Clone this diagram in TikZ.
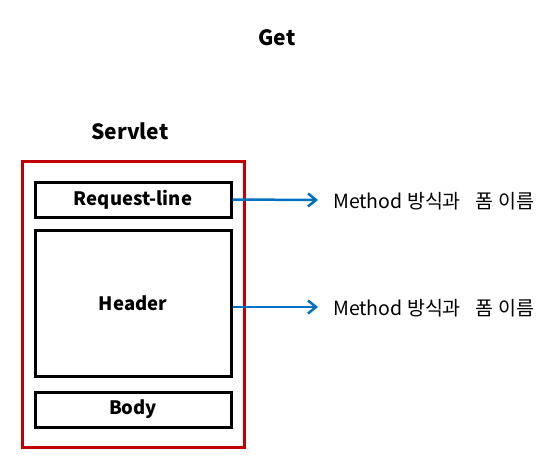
\documentclass[tikz,border=0pt]{standalone}
\usepackage{fontspec}
\setmainfont{Noto Sans CJK KR}
\usetikzlibrary{arrows.meta}
\definecolor{boxred}{HTML}{C00000}
\definecolor{arrblue}{HTML}{0070C0}
\begin{document}
\begin{tikzpicture}[x=1pt,y=-1pt,
  part/.style={draw=black,line width=3pt,minimum width=196pt,inner sep=0pt,font=\fontsize{18.5}{20}\selectfont\bfseries},
  title/.style={font=\fontsize{21}{23}\selectfont\bfseries},
  note/.style={anchor=west,inner sep=0pt,font=\fontsize{19.5}{21}\selectfont},
  link/.style={draw=arrblue,line width=2.5pt,-{Straight Barb[length=8pt,width=13pt]}}]
\useasboundingbox (0,0) rectangle (559,474);
\node[title] (get) at (277,38) {Get};
\node[title] (servlettitle) at (130,131) {Servlet};
\node[draw=boxred,line width=3pt,minimum width=222pt,minimum height=286pt,inner sep=0pt] (servlet) at (133,304) {};
\node[part,minimum height=35pt] (req) at (133,199.5) {Request-line};
\node[part,minimum height=146pt] (header) at (133,303) {Header};
\node[part,minimum height=35pt] (body) at (133,409.5) {Body};
\node[note] (t1) at (333,201) {Method 방식과\hspace{15pt}폼 이름};
\node[note] (t2) at (333,308) {Method 방식과\hspace{15pt}폼 이름};
\coordinate (a1) at (318,200);
\coordinate (a2) at (318,307);
\draw[link] (req.east) -- (a1);
\draw[link] (header.east |- a2) -- (a2);
\end{tikzpicture}
\end{document}
